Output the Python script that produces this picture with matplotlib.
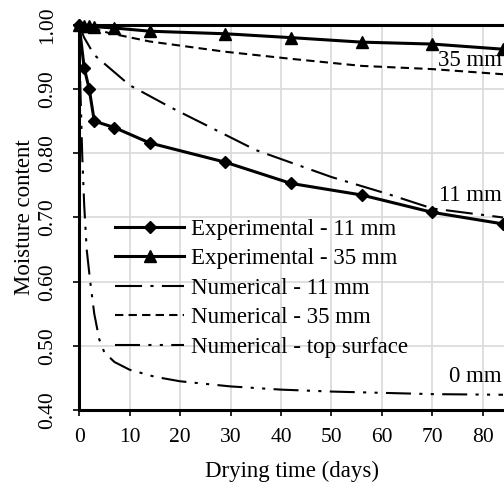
import matplotlib
matplotlib.use("Agg")
import matplotlib.pyplot as plt

plt.rcParams['font.family'] = ['Liberation Serif', 'DejaVu Serif']

# Experimental data
exp11_t = [0, 1, 2, 3, 7, 14, 29, 42, 56, 70, 84]
exp11_m = [1.0, 0.933, 0.90, 0.85, 0.84, 0.816, 0.786, 0.753, 0.735, 0.708, 0.69]
exp35_t = [0, 1, 2, 3, 7, 14, 29, 42, 56, 70, 84]
exp35_m = [1.0, 0.998, 0.998, 0.997, 0.995, 0.99, 0.986, 0.98, 0.973, 0.97, 0.962]

# Numerical data
num11_t = [0, 1, 3, 10, 18, 35, 50, 61, 70, 84]
num11_m = [1.0, 0.98, 0.953, 0.906, 0.872, 0.805, 0.763, 0.737, 0.714, 0.70]
num35_t = [0, 2, 6, 14, 29, 42, 56, 70, 84]
num35_m = [1.0, 0.996, 0.987, 0.974, 0.958, 0.947, 0.936, 0.931, 0.923]
top_t = [0, 0.25, 0.6, 1.0, 1.5, 2.2, 3, 4, 5, 7, 10, 15, 20, 30, 40, 50, 60, 70, 84]
top_m = [1.0, 0.9, 0.8, 0.72, 0.65, 0.6, 0.55, 0.51, 0.49, 0.475, 0.463, 0.452,
         0.445, 0.437, 0.432, 0.429, 0.427, 0.425, 0.424]

xticks = [0, 10, 20, 30, 40, 50, 60, 70, 80]
yticks = [0.40, 0.50, 0.60, 0.70, 0.80, 0.90, 1.00]

fig = plt.figure(figsize=(5.04, 4.86), dpi=100)
ax = fig.add_axes([0.157, 0.156, 0.843, 0.793])

ax.plot(exp11_t, exp11_m, color='black', lw=2.2, marker='D', ms=6,
        label='Experimental - 11 mm', zorder=4, clip_on=False)
ax.plot(exp35_t, exp35_m, color='black', lw=2.2, marker='^', ms=8,
        label='Experimental - 35 mm', zorder=4, clip_on=False)
ax.plot(num11_t, num11_m, color='black', lw=1.5, dashes=(13, 4, 1.5, 4),
        label='Numerical - 11 mm', zorder=3)
ax.plot(num35_t, num35_m, color='black', lw=1.5, dashes=(4, 2.5),
        label='Numerical - 35 mm', zorder=3)
ax.plot(top_t, top_m, color='black', lw=1.5, dashes=(12, 4, 1.5, 4, 1.5, 4),
        label='Numerical - top surface', zorder=3)

ax.set_xlim(0, 84.2)
ax.set_ylim(0.40, 1.00)
ax.set_xticks(xticks)
ax.set_yticks(yticks)
ax.set_yticklabels([f"{v:.2f}" for v in yticks], rotation=90, va='center')
ax.grid(True, color='#d9d9d9', lw=1.2)
ax.set_axisbelow(True)

for s in ['left', 'bottom', 'top']:
    ax.spines[s].set_linewidth(2.2)
ax.spines['right'].set_visible(False)
ax.tick_params(direction='out', length=4.5, width=1.2, labelsize=15.5)
ax.tick_params(axis='x', pad=8)
ax.tick_params(axis='y', pad=11)

ax.set_xlabel('Drying time (days)', fontsize=16.5, labelpad=10)
ax.set_ylabel('Moisture content', fontsize=16.5, labelpad=2.5)

ax.text(83.8, 0.945, '35 mm', fontsize=16.5, ha='right', va='center')
ax.text(83.8, 0.734, '11 mm', fontsize=16.5, ha='right', va='center')
ax.text(83.8, 0.452, '0 mm', fontsize=16.5, ha='right', va='center')

ax.legend(loc='upper left', bbox_to_anchor=(0.047, 0.538), frameon=False,
          fontsize=16.5, handlelength=3.0, handletextpad=0.3, labelspacing=0.37,
          borderpad=0.2)

fig.savefig('out.png', dpi=100)
